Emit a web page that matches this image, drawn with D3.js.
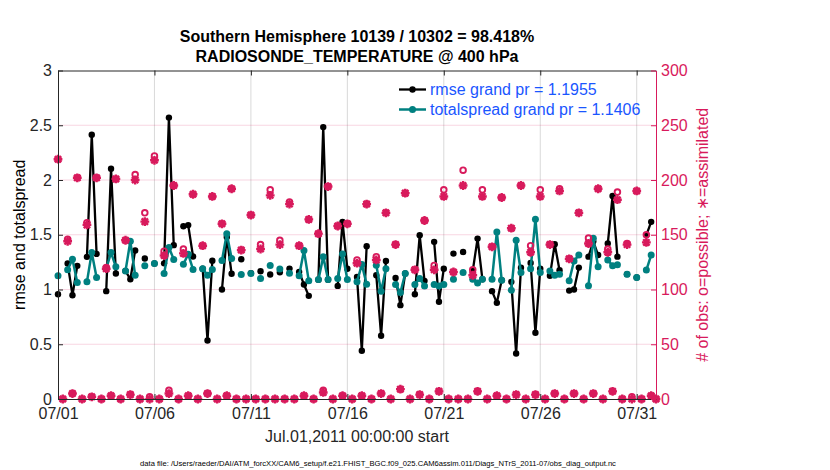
<!DOCTYPE html>
<head>
    <meta charset="utf-8">
    <script src="https://d3js.org/d3.v7.min.js"></script>
    <style>
        body { margin:0; background:#fff; }
        text { font-family: 'Liberation Sans', Arial, Helvetica, sans-serif; }
        .title { font-size: 16px; font-weight: bold; }
        .axis text { font-size: 16px; }
        .axis .domain { stroke-width: 1; }
        .axis--left .domain, .axis--left line,
        .axis--bottom .domain, .axis--bottom line,
        .axis--top .domain, .axis--top line { stroke: #262626; }
        .axis--left text, .axis--bottom text { fill: #262626; }
        .grid-x { stroke: #d9d9d9; stroke-width: 1; }
        .grid-y { stroke: #d81a5c; stroke-opacity: .18; stroke-width: 1; }
        .line { fill: none; stroke-linejoin: round; }
        .line--rmse { stroke: #000; stroke-width: 2.3; }
        .line--spread { stroke: #008080; stroke-width: 2.5; }
        .legend text { font-size: 16px; fill: #1a56ff; }
        .label { font-size: 16px; }
        .datafile { font-size: 7.6px; fill: #000; }
    </style>
</head>

<body>
  <script>
    // 6-hourly bins starting 2011-07-01 00Z
    const startTime = Date.UTC(2011, 6, 1);
    const binHours = 6;

    const rmse = [
        0.957, null, 1.237, 0.948, 1.216, null, 1.298, 2.413, 1.325, null,
        0.985, 2.103, 1.146, null, 1.17, 1.094, 1.356, null, 1.283, null,
        1.237, null, 1.239, 2.57, 1.405, null, 1.577, 1.588, 1.302, null,
        1.19, 0.534, 1.263, null, 1.0, 1.48, 1.144, null, 1.276, null,
        1.15, null, 1.167, null, 1.137, null, 1.158, null, 1.191, null,
        1.161, 1.046, 0.942, null, 1.09, 2.483, 1.09, null, 1.033, 1.617,
        1.19, null, 1.115, 0.44, 1.395, null, 1.13, 0.578, 1.261, null,
        1.106, 0.857, 1.146, null, 0.957, 1.495, 1.079, null, 1.435, 0.888,
        1.19, null, 1.328, null, 1.343, null, 1.17, 1.465, 1.094, null,
        0.985, 0.878, 1.085, null, 1.07, 0.416, 1.198, null, 1.243, 0.605,
        1.19, null, 1.125, 1.413, 1.176, null, 0.99, 1.0, 1.2, null,
        1.30, 1.44, 1.315, null, 1.42, 1.855, 1.30, null, 1.14, null,
        1.11, null, 1.497, 1.618, null
    ];

    const totalspread = [
        1.125, null, 1.18, 1.277, 1.064, null, 1.07, 1.337, 1.11, null,
        1.19, 1.337, 1.207, null, 1.17, 1.44, 1.13, null, 1.216, null,
        1.237, null, 1.147, 1.384, 1.275, null, 1.23, 1.323, 1.183, null,
        1.19, 1.13, 1.183, null, 1.265, 1.51, 1.284, null, 1.136, null,
        1.146, null, 1.10, null, 1.219, null, 1.188, null, 1.149, null,
        1.125, 1.356, 1.079, null, 1.091, 1.298, 1.091, null, 1.10, 1.325,
        1.091, null, 1.07, 1.228, 1.049, null, 1.222, 0.985, 1.19, null,
        1.046, 0.973, 1.146, null, 1.046, 1.10, 1.033, null, 1.046, 1.033,
        1.046, null, 1.094, null, 1.155, null, 1.094, 1.06, 1.094, null,
        1.094, 1.526, 1.085, null, 0.994, 1.45, 1.155, null, 1.19, 1.641,
        1.155, null, 1.17, 1.13, 1.14, null, 1.08, 1.26, 1.315, null,
        1.035, 1.467, 1.208, null, 1.27, 1.217, 1.225, null, 1.14, null,
        1.11, null, 1.177, 1.314, null
    ];

    const nPossible = [
        219, 0, 146, 5, 202, 0, 161, 2, 202, 0,
        120, 3, 201, 0, 145, 4, 205, 0, 170, 2,
        222, 0, 135, 8, 195, 0, 137, 3, 187, 0,
        140, 5, 185, 0, 160, 3, 192, 0, 136, 0,
        168, 0, 141, 0, 191, 0, 145, 0, 180, 0,
        140, 3, 164, 0, 151, 8, 194, 0, 158, 3,
        160, 0, 127, 3, 178, 0, 130, 5, 170, 0,
        141, 9, 188, 0, 118, 4, 163, 0, 122, 7,
        191, 0, 116, 0, 209, 0, 118, 7, 191, 0,
        139, 3, 184, 0, 156, 4, 195, 0, 140, 4,
        191, 0, 141, 5, 192, 0, 128, 5, 170, 0,
        147, 5, 192, 0, 137, 7, 189, 0, 142, 2,
        190, 0, 150, 3, 0
    ];

    const nAssimilated = [
        219, 0, 144, 5, 202, 0, 159, 2, 202, 0,
        119, 3, 201, 0, 145, 4, 200, 0, 162, 0,
        218, 0, 131, 5, 195, 0, 133, 3, 187, 0,
        140, 5, 185, 0, 160, 3, 192, 0, 136, 0,
        168, 0, 137, 0, 186, 0, 141, 0, 178, 0,
        140, 3, 164, 0, 151, 6, 194, 0, 158, 3,
        160, 0, 124, 3, 178, 0, 127, 5, 170, 0,
        141, 9, 188, 0, 118, 4, 163, 0, 118, 7,
        185, 0, 116, 0, 195, 0, 113, 7, 185, 0,
        139, 3, 184, 0, 156, 4, 195, 0, 134, 4,
        185, 0, 141, 5, 190, 0, 128, 5, 170, 0,
        142, 5, 192, 0, 134, 7, 182, 0, 141, 0,
        190, 0, 143, 3, 0
    ];

    const xTickLabels = ['07/01', '07/06', '07/11', '07/16', '07/21', '07/26', '07/31'];
    const yLeftTicks = [0, 0.5, 1, 1.5, 2, 2.5, 3];
    const yRightTicks = [0, 50, 100, 150, 200, 250, 300];

    const legendLabels = ['rmse grand pr = 1.1955', 'totalspread grand pr = 1.1406'];
    const titleLines = ['Southern Hemisphere 10139 / 10302 = 98.418%', 'RADIOSONDE_TEMPERATURE @ 400 hPa'];

    const colors = { rmse: '#000000', spread: '#008080', obs: '#d81a5c' };

    const width = 830;
    const height = 470;
    const margins = {top: 70.5, right: 174, bottom: 71, left: 58};
    const innerWidth = width - margins.left - margins.right;
    const innerHeight = height - margins.top - margins.bottom;

    const parseTick = d3.utcParse('%Y/%m/%d');
    const tickDates = xTickLabels.map(l => parseTick('2011/' + l));

    const data = rmse.map((r, i) => ({
        date: new Date(startTime + i * binHours * 3600e3),
        rmse: r,
        spread: totalspread[i],
        possible: nPossible[i],
        assimilated: nAssimilated[i]
    }));

    const xScale = d3.scaleUtc()
        .domain([new Date(startTime), d3.utcDay.offset(new Date(startTime), 31)])
        .range([0, innerWidth]);

    const yScale = d3.scaleLinear().domain([0, 3]).range([innerHeight, 0]);
    const yObs = d3.scaleLinear().domain([0, 300]).range([innerHeight, 0]);

    const svg = d3.select('body').append('svg')
        .attr('width', width)
        .attr('height', height);

    const inner = svg.append('g')
        .attr('transform', `translate(${margins.left},${margins.top})`);

    // grid
    inner.append('g').selectAll('line')
        .data(tickDates.slice(1))
        .enter().append('line')
        .attr('class', 'grid-x')
        .attr('x1', d => xScale(d)).attr('x2', d => xScale(d))
        .attr('y1', 0).attr('y2', innerHeight);

    inner.append('g').selectAll('line')
        .data(yRightTicks.slice(1, -1))
        .enter().append('line')
        .attr('class', 'grid-y')
        .attr('x1', 0).attr('x2', innerWidth)
        .attr('y1', d => yObs(d)).attr('y2', d => yObs(d));

    function addSeries(key, cls, color, r) {
        const line = d3.line()
            .defined(d => d[key] != null)
            .x(d => xScale(d.date))
            .y(d => yScale(d[key]));

        const g = inner.append('g');
        g.append('path')
            .datum(data)
            .attr('class', `line ${cls}`)
            .attr('d', line);

        g.selectAll('circle')
            .data(data.filter(d => d[key] != null))
            .enter().append('circle')
            .attr('cx', d => xScale(d.date))
            .attr('cy', d => yScale(d[key]))
            .attr('r', r)
            .attr('fill', color);
    }

    addSeries('rmse', 'line--rmse', colors.rmse, 3.2);
    addSeries('spread', 'line--spread', colors.spread, 3.5);

    // obs counts on the right axis
    const star = s => {
        const q = s * 0.72;
        return `M${-s},0L${s},0M0,${-s}L0,${s}M${-q},${-q}L${q},${q}M${-q},${q}L${q},${-q}`;
    };

    const obs = inner.append('g');
    obs.selectAll('circle')
        .data(data)
        .enter().append('circle')
        .attr('cx', d => xScale(d.date))
        .attr('cy', d => yObs(d.possible))
        .attr('r', 2.8)
        .attr('fill', 'none')
        .attr('stroke', colors.obs)
        .attr('stroke-width', 1.9);

    obs.selectAll('path')
        .data(data)
        .enter().append('path')
        .attr('transform', d => `translate(${xScale(d.date)},${yObs(d.assimilated)})`)
        .attr('d', star(4.4))
        .attr('fill', 'none')
        .attr('stroke', colors.obs)
        .attr('stroke-width', 2.4);

    // axes
    inner.append('g')
        .attr('class', 'axis axis--bottom')
        .attr('transform', `translate(0,${innerHeight})`)
        .call(d3.axisBottom(xScale)
            .tickValues(tickDates)
            .tickFormat((d, i) => xTickLabels[i])
            .tickSizeInner(-5).tickSizeOuter(0).tickPadding(9));

    inner.append('g')
        .attr('class', 'axis axis--top')
        .call(d3.axisTop(xScale)
            .tickValues(tickDates)
            .tickFormat('')
            .tickSizeInner(-5).tickSizeOuter(0));

    inner.append('g')
        .attr('class', 'axis axis--left')
        .call(d3.axisLeft(yScale)
            .tickValues(yLeftTicks)
            .tickFormat(d3.format('~g'))
            .tickSizeInner(-5).tickSizeOuter(0).tickPadding(6));

    const rightAxis = inner.append('g')
        .attr('class', 'axis axis--right')
        .attr('transform', `translate(${innerWidth},0)`)
        .call(d3.axisRight(yObs)
            .tickValues(yRightTicks)
            .tickSizeInner(-5).tickSizeOuter(0).tickPadding(5));
    rightAxis.selectAll('.domain, line').attr('stroke', colors.obs);
    rightAxis.selectAll('text').attr('fill', colors.obs);

    // legend
    const legend = inner.append('g')
        .attr('class', 'legend')
        .attr('transform', 'translate(341,19)');

    [['rmse', colors.rmse, 2.3, 3.2], ['spread', colors.spread, 2.5, 3.5]].forEach(([k, c, w, r], i) => {
        const row = legend.append('g').attr('transform', `translate(0,${i * 20})`);
        row.append('line')
            .attr('x1', 0).attr('x2', 27)
            .attr('stroke', c).attr('stroke-width', w);
        row.append('circle').attr('cx', 13.5).attr('r', r).attr('fill', c);
        row.append('text')
            .attr('x', 31).attr('dy', '0.36em')
            .text(legendLabels[i]);
    });

    // titles and labels
    svg.selectAll('.title')
        .data(titleLines)
        .enter().append('text')
        .attr('class', 'title')
        .attr('x', margins.left + innerWidth / 2)
        .attr('y', (d, i) => 42 + i * 20)
        .attr('text-anchor', 'middle')
        .text(d => d);

    svg.append('text')
        .attr('class', 'label')
        .attr('transform', `translate(25,${margins.top + innerHeight / 2}) rotate(-90)`)
        .attr('text-anchor', 'middle')
        .text('rmse and totalspread');

    svg.append('text')
        .attr('class', 'label')
        .attr('fill', colors.obs)
        .attr('transform', `translate(708,${margins.top + innerHeight / 2}) rotate(-90)`)
        .attr('text-anchor', 'middle')
        .text('# of obs: o=possible; \u2217=assimilated');

    svg.append('text')
        .attr('class', 'label')
        .attr('x', margins.left + innerWidth / 2)
        .attr('y', 441.5)
        .attr('text-anchor', 'middle')
        .attr('fill', '#262626')
        .text('Jul.01,2011 00:00:00 start');

    svg.append('text')
        .attr('class', 'datafile')
        .attr('x', 378)
        .attr('y', 466)
        .attr('text-anchor', 'middle')
        .text('data file: /Users/raeder/DAI/ATM_forcXX/CAM6_setup/f.e21.FHIST_BGC.f09_025.CAM6assim.011/Diags_NTrS_2011-07/obs_diag_output.nc');
  </script>
</body>
